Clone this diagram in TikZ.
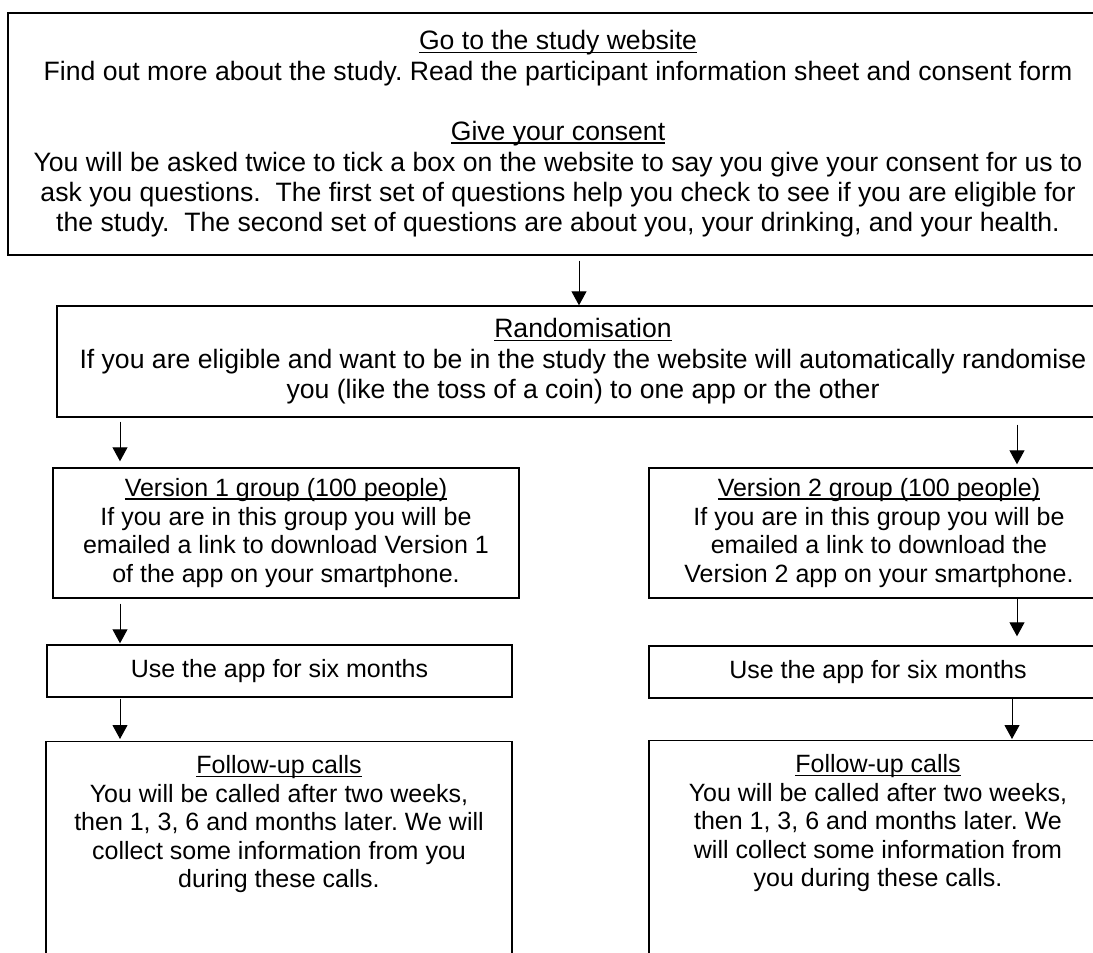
\documentclass[tikz,border=0pt]{standalone}
\usepackage{fontspec}
\setmainfont{Liberation Sans}
\usetikzlibrary{arrows.meta}
\frenchspacing

\newcommand{\hd}[1]{\setbox0\hbox{#1}\rlap{\rule[-3pt]{\wd0}{1.3pt}}\box0}

\tikzset{
    box/.style={draw, line width=1.4pt, align=center, inner sep=0pt,
        font=\fontsize{25}{28.5}\selectfont},
    bigbox/.style={box, font=\fontsize{26.6}{30.4}\selectfont},
    arr/.style={line width=1pt, -{Triangle[length=14pt,width=15pt]}}
}

\begin{document}
\begin{tikzpicture}[x=1pt, y=-1pt]
    \useasboundingbox (0,0) rectangle (1093,953);
    \clip (0,0) rectangle (1093,953);

    \node[bigbox, minimum width=1100pt, minimum height=242pt] (site) at (558,134)
        {\hd{Go to the study website}\\
        Find out more about the study. Read the participant information sheet and consent form\\[30pt]
        \hd{Give your consent}\\
        You will be asked twice to tick a box on the website to say you give your consent for us to\\
        ask you questions.\ \ The first set of questions help you check to see if you are eligible for\\
        the study.\ \ The second set of questions are about you, your drinking, and your health.};

    \node[bigbox, minimum width=1052pt, minimum height=111pt] (rand) at (583,361.5)
        {\hd{Randomisation}\\
        If you are eligible and want to be in the study the website will automatically randomise\\
        you (like the toss of a coin) to one app or the other};

    \node[box, minimum width=466pt, minimum height=130pt] (v1) at (286,533)
        {\hd{Version 1 group (100 people)}\\
        If you are in this group you will be\\
        emailed a link to download Version 1\\
        of the app on your smartphone.};
    \node[box, minimum width=465pt, minimum height=52pt] (use1) at (279.5,671)
        {Use the app for six months};
    \node[box, minimum width=466pt, anchor=north, inner ysep=14pt, text depth=260pt] (fu1) at (279,741)
        {\hd{Follow-up calls}\\
        You will be called after two weeks,\\
        then 1, 3, 6 and months later. We will\\
        collect some information from you\\
        during these calls.};

    \node[box, minimum width=460pt, minimum height=130pt] (v2) at (879,533)
        {\hd{Version 2 group (100 people)}\\
        If you are in this group you will be\\
        emailed a link to download the\\
        Version 2 app on your smartphone.};
    \node[box, minimum width=458pt, minimum height=52pt] (use2) at (878,672)
        {Use the app for six months};
    \node[box, minimum width=458pt, anchor=north, inner ysep=14pt, text depth=260pt] (fu2) at (878,740)
        {\hd{Follow-up calls}\\
        You will be called after two weeks,\\
        then 1, 3, 6 and months later. We\\
        will collect some information from\\
        you during these calls.};

    \coordinate (mid) at (579,0);
    \coordinate (left) at (120,0);
    \coordinate (right) at (1017,0);
    \coordinate (right2) at (1012,0);

    \draw[arr, shorten <=5pt] (site.south -| mid) -- (rand.north -| mid);
    \draw[arr, shorten <=4pt, shorten >=6pt] (rand.south -| left) -- (v1.north -| left);
    \draw[arr, shorten <=5pt, shorten >=1pt] (v1.south -| left) -- (use1.north -| left);
    \draw[arr, shorten <=1pt, shorten >=2pt] (use1.south -| left) -- (fu1.north -| left);
    \draw[arr, shorten <=7pt, shorten >=3pt] (rand.south -| right) -- (v2.north -| right);
    \draw[arr, shorten >=9pt] (v2.south -| right) -- (use2.north -| right);
    \draw[arr, shorten >=1pt] (use2.south -| right2) -- (fu2.north -| right2);
\end{tikzpicture}
\end{document}
